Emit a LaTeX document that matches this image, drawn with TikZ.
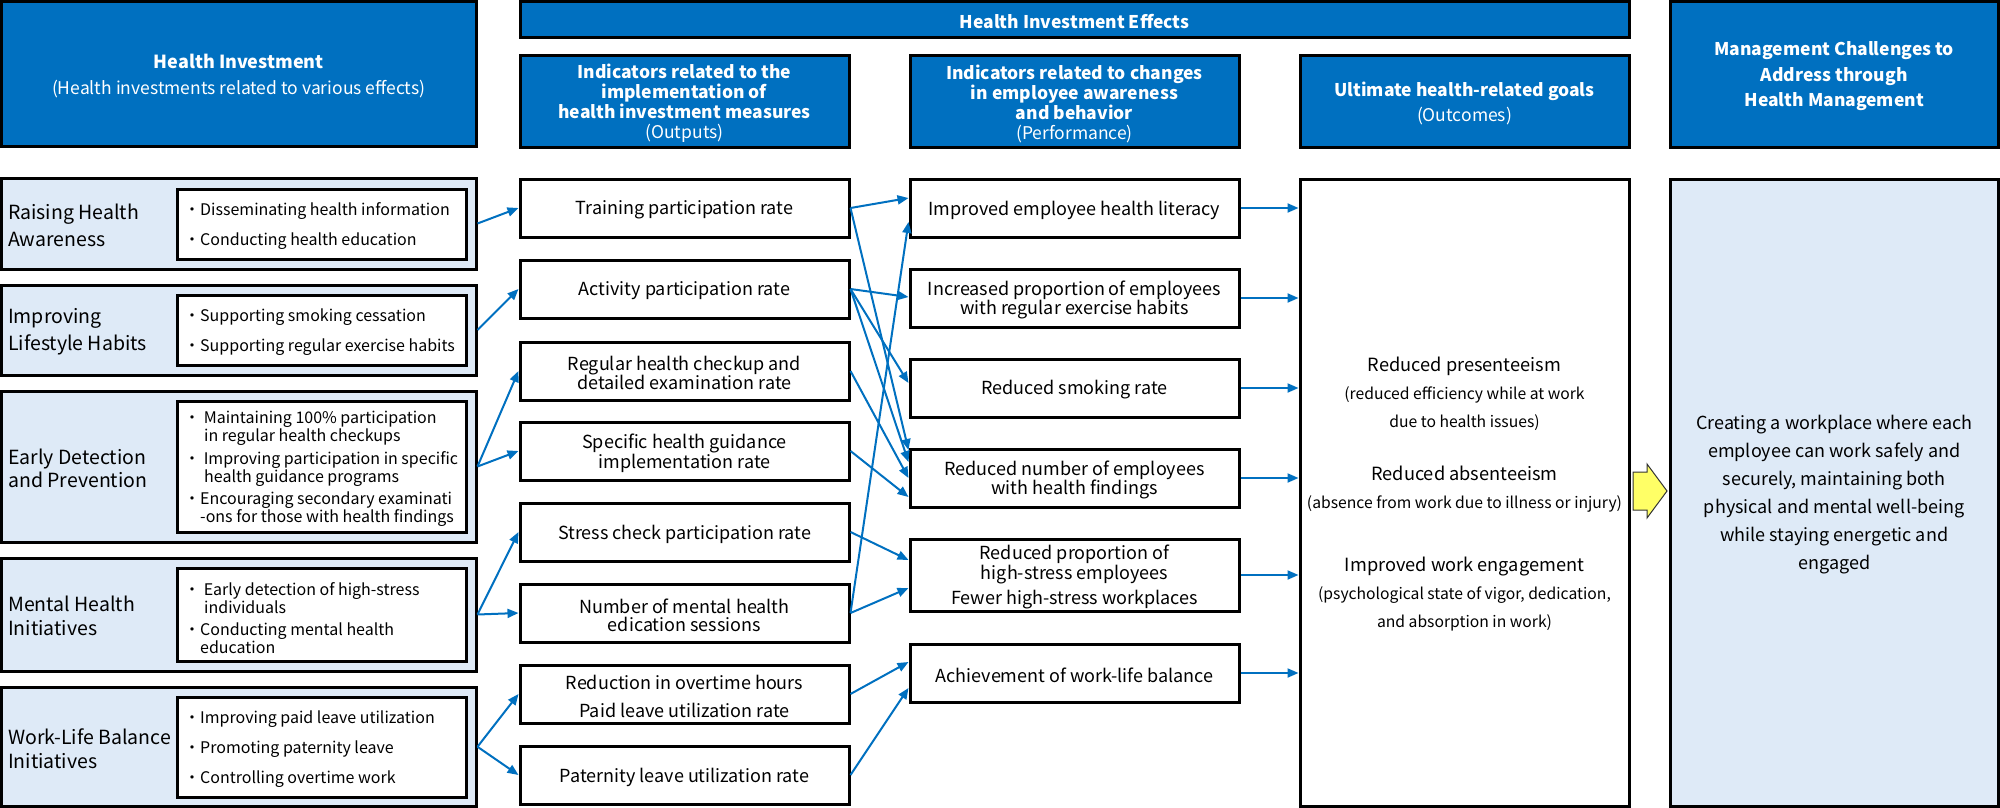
\documentclass[tikz,border=0pt]{standalone}
\usepackage{fontspec}
\setmainfont{Noto Sans CJK JP}
\usetikzlibrary{arrows.meta,calc}
\definecolor{hblue}{HTML}{0070C0}
\definecolor{lblue}{HTML}{DEEAF7}
\definecolor{ayellow}{HTML}{FFFF66}
\newcommand\placebox[7]{\node[#1, minimum width={#5-#3}, minimum height={#6-#4}] (#2) at ({(#3+#5)/2},{(#4+#6)/2}) {};
  \node[#1t] (#2t) at ([yshift=-2pt]#2.center) {#7};}
\newcommand\bl{・}
\tikzset{
  hdr/.style={draw=black, line width=3pt, fill=hblue, inner sep=0pt},
  hdrt/.style={text=white, align=center, inner sep=0pt, font=\fontsize{17.5}{20}\selectfont},
  lbox/.style={draw=black, line width=3pt, fill=lblue, inner sep=0pt},
  lboxt/.style={inner sep=0pt},
  ibox/.style={draw=black, line width=3pt, fill=white, inner sep=0pt},
  iboxt/.style={inner sep=0pt},
  wbox/.style={draw=black, line width=3pt, fill=white, inner sep=0pt},
  wboxt/.style={align=center, inner sep=0pt, font=\fontsize{18}{18}\selectfont},
  ocbox/.style={wbox},
  ocboxt/.style={align=center, inner sep=0pt, font=\fontsize{18.2}{28}\selectfont},
  mbox/.style={draw=black, line width=3pt, fill=lblue, inner sep=0pt},
  mboxt/.style={align=center, inner sep=0pt, font=\fontsize{18}{28}\selectfont},
  lab/.style={anchor=west, align=left, inner sep=0pt, font=\fontsize{19.5}{27}\selectfont},
  btxt/.style={anchor=west, align=left, inner sep=0pt, font=\fontsize{16}{30}\selectfont},
  btxtn/.style={anchor=west, align=left, inner sep=0pt, font=\fontsize{16}{18}\selectfont},
  arr/.style={draw=hblue, line width=2pt, -{Triangle[length=11pt,width=9pt]}},
}
\newcommand\sub[1]{{\fontsize{15.7}{28}\selectfont #1}}
\begin{document}
\begin{tikzpicture}[x=1pt,y=-1pt]
\useasboundingbox (0,0) rectangle (2000,808);
% headers
\placebox{hdr}{hHI}{1.5}{1.5}{476}{146}{\fontsize{18}{20}\selectfont\textbf{Health Investment}\\[6pt](Health investments related to various effects)}
\placebox{hdr}{hEff}{520}{1.5}{1629}{38}{\textbf{Health Investment Effects}}
\placebox{hdr}{hOut}{520}{56}{849}{147}{\textbf{Indicators related to the}\\\textbf{implementation of}\\\textbf{health investment measures}\\(Outputs)}
\placebox{hdr}{hPerf}{910}{56}{1239}{147}{\textbf{Indicators related to changes}\\\textbf{in employee awareness}\\\textbf{and behavior}\\(Performance)}
\placebox{hdr}{hOutc}{1300}{56}{1629}{147}{\textbf{Ultimate health-related goals}\\[5pt](Outcomes)}
\placebox{hdr}{hMg}{1670}{1.5}{1998.5}{147}{\textbf{Management Challenges to}\\[5.5pt]\textbf{Address through}\\[5.5pt]\textbf{Health Management}}
% left column
\placebox{lbox}{L1}{1.5}{178}{476}{269}{}
\placebox{ibox}{I1}{177}{189}{466}{259}{}
\node[lab] (L1x) at ([xshift=8pt,yshift=-2pt]L1.west) {Raising Health\\Awareness};
\node[btxt] (I1x) at ([xshift=8.5pt,yshift=-2pt]I1.west) {\bl Disseminating health information\\\bl Conducting health education};
\placebox{lbox}{L2}{1.5}{285}{476}{375}{}
\placebox{ibox}{I2}{177}{295}{466}{365}{}
\node[lab] (L2x) at ([xshift=8pt,yshift=-2pt]L2.west) {Improving\\Lifestyle Habits};
\node[btxt] (I2x) at ([xshift=8.5pt,yshift=-2pt]I2.west) {\bl Supporting smoking cessation\\\bl Supporting regular exercise habits};
\placebox{lbox}{L3}{1.5}{391}{476}{542}{}
\placebox{ibox}{I3}{177}{401}{466}{532}{}
\node[lab, font=\fontsize{19.5}{23}\selectfont] (L3x) at ([xshift=8pt,yshift=-1.5pt]L3.west) {Early Detection\\and Prevention};
\node[btxtn] (I3x) at ([xshift=8.5pt,yshift=-2pt]I3.west) {\bl\ Maintaining 100\% participation\\\hspace*{20pt}in regular health checkups\\[5pt]\bl\ Improving participation in specific\\\hspace*{20pt}health guidance programs\\[4pt]\bl Encouraging secondary examinati\\\hspace*{16pt}-ons for those with health findings};
\placebox{lbox}{L4}{1.5}{558}{476}{671}{}
\placebox{ibox}{I4}{177}{568}{466}{661}{}
\node[lab, font=\fontsize{19.5}{24}\selectfont] (L4x) at ([xshift=8pt,yshift=-1.5pt]L4.west) {Mental Health\\Initiatives};
\node[btxtn] (I4x) at ([xshift=8.5pt,yshift=-4pt]I4.west) {\bl\ Early detection of high-stress\\\hspace*{20pt}individuals\\[4pt]\bl Conducting mental health\\\hspace*{16pt}education};
\placebox{lbox}{L5}{1.5}{687}{476}{806.5}{}
\placebox{ibox}{I5}{177}{697}{466}{797}{}
\node[lab, font=\fontsize{19.5}{24}\selectfont] (L5x) at ([xshift=8pt,yshift=-1.5pt]L5.west) {Work-Life Balance\\Initiatives};
\node[btxt] (I5x) at ([xshift=8.5pt,yshift=-2pt]I5.west) {\bl Improving paid leave utilization\\\bl Promoting paternity leave\\\bl Controlling overtime work};
% outputs
\placebox{wbox}{O1}{520}{179}{849}{237}{Training participation rate}
\placebox{wbox}{O2}{520}{260}{849}{318}{Activity participation rate}
\placebox{wbox}{O3}{520}{342}{849}{400}{Regular health checkup and\\detailed examination rate}
\placebox{wbox}{O4}{520}{422}{849}{480}{Specific health guidance\\implementation rate}
\placebox{wbox}{O5}{520}{503}{849}{561}{Stress check participation rate}
\placebox{wbox}{O6}{520}{584}{849}{642}{Number of mental health\\edication sessions}
\placebox{wbox}{O7}{520}{665}{849}{723}{Reduction in overtime hours\\[10pt]Paid leave utilization rate}
\placebox{wbox}{O8}{520}{746}{849}{804}{Paternity leave utilization rate}
% performance
\placebox{wbox}{P1}{910}{179}{1239}{237}{Improved employee health literacy}
\placebox{wbox}{P2}{910}{269}{1239}{327}{Increased proportion of employees\\with regular exercise habits}
\placebox{wbox}{P3}{910}{359}{1239}{417}{Reduced smoking rate}
\placebox{wbox}{P4}{910}{449}{1239}{507}{Reduced number of employees\\with health findings}
\placebox{wbox}{P5}{910}{539}{1239}{611}{Reduced proportion of\\high-stress employees\\[5pt]Fewer high-stress workplaces}
\placebox{wbox}{P6}{910}{644}{1239}{702}{Achievement of work-life balance}
% outcomes
\placebox{ocbox}{OC}{1300}{179}{1629}{806}{Reduced presenteeism\\\sub{(reduced efficiency while at work}\\\sub{due to health issues)}\\[25pt]Reduced absenteeism\\\sub{(absence from work due to illness or injury)}\\[35pt]Improved work engagement\\\sub{(psychological state of vigor, dedication,}\\\sub{and absorption in work)}}
% management
\placebox{mbox}{MG}{1670}{179}{1998.5}{806}{Creating a workplace where each\\employee can work safely and\\securely, maintaining both\\physical and mental well-being\\while staying energetic and\\engaged}
\draw[fill=ayellow, draw=black!80, line width=1pt] (1633,472) -- (1647,472) -- (1647,464) -- (1667,491) -- (1647,518) -- (1647,510) -- (1633,510) -- cycle;
% arrows left -> outputs
\draw[arr] (L1.east) -- (O1.west);
\draw[arr] (L2.east) -- (O2.west);
\draw[arr] (L3.east) -- (O3.west);
\draw[arr] (L3.east) -- (O4.west);
\draw[arr] (L4.east) -- (O5.west);
\draw[arr] (L4.east) -- (O6.west);
\draw[arr] (L5.east) -- (O7.west);
\draw[arr] (L5.east) -- (O8.west);
% outputs -> performance
\draw[arr] (O1.east) -- ([yshift=10pt]P1.west);
\draw[arr] (O1.east) -- ([yshift=28pt]P4.west);
\draw[arr] (O2.east) -- ([yshift=1pt]P2.west);
\draw[arr] (O2.east) -- ([yshift=5pt]P3.west);
\draw[arr] (O2.east) -- ([yshift=16pt]P4.west);
\draw[arr] (O3.east) -- (P4.west);
\draw[arr] (O4.east) -- ([yshift=-19pt]P4.west);
\draw[arr] (O5.east) -- ([yshift=15pt]P5.west);
\draw[arr] (O6.east) -- ([yshift=-14pt]P1.west);
\draw[arr] (O6.east) -- ([yshift=-13pt]P5.west);
\draw[arr] (O7.east) -- ([yshift=11pt]P6.west);
\draw[arr] (O8.east) -- ([yshift=-15pt]P6.west);
% performance -> outcomes
\foreach \p in {P1,P2,P3,P4,P5,P6}{\draw[arr] (\p.east) -- (\p.east -| OC.west);}
\end{tikzpicture}
\end{document}
